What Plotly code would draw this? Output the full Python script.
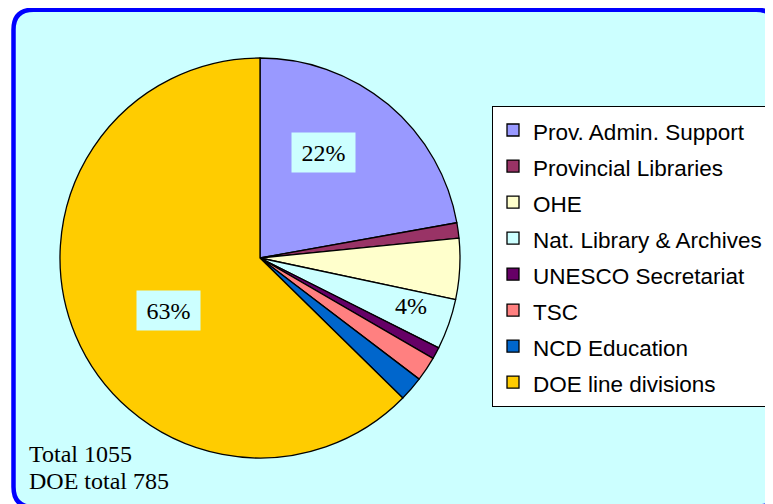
import plotly.graph_objects as go

W, H = 773, 504
OFF = 8  # the page body margin pushes the figure 8px right and down

# data
labels = ["Prov. Admin. Support", "Provincial Libraries", "OHE", "Nat. Library & Archives",
          "UNESCO Secretariat", "TSC", "NCD Education", "DOE line divisions"]
values = [234, 13, 52, 43, 10, 21, 21, 661]
colors = ["#9999FF", "#993366", "#FFFFCC", "#CCFFFF", "#660066", "#FF8080", "#0066CC", "#FFCC00"]
total_label = "Total 1055"
doe_label = "DOE total 785"

total = sum(values)

def px_x(x):
    return (x - OFF) / W

def px_y(y):
    return 1 - (y - OFF) / H

# legend text smaller than the legend font so the rows get the wider spacing
legend_labels = [f"<span style='font-size:22.5px'>{l}</span>" for l in labels]

fig = go.Figure(go.Pie(
    labels=legend_labels,
    values=values,
    marker=dict(colors=colors, line=dict(color="black", width=1.3)),
    sort=False,
    direction="clockwise",
    rotation=0,
    textinfo="none",
    hoverinfo="label+value+percent",
    domain=dict(x=[px_x(60), px_x(460)], y=[px_y(458), px_y(58)]),
))

# rounded blue frame
def rounded_rect(x0, y0, x1, y1, r):
    p = [
        f"M {px_x(x0 + r)},{px_y(y0)}",
        f"L {px_x(x1 - r)},{px_y(y0)}",
        f"Q {px_x(x1)},{px_y(y0)} {px_x(x1)},{px_y(y0 + r)}",
        f"L {px_x(x1)},{px_y(y1 - r)}",
        f"Q {px_x(x1)},{px_y(y1)} {px_x(x1 - r)},{px_y(y1)}",
        f"L {px_x(x0 + r)},{px_y(y1)}",
        f"Q {px_x(x0)},{px_y(y1)} {px_x(x0)},{px_y(y1 - r)}",
        f"L {px_x(x0)},{px_y(y0 + r)}",
        f"Q {px_x(x0)},{px_y(y0)} {px_x(x0 + r)},{px_y(y0)}",
        "Z",
    ]
    return " ".join(p)

fig.add_shape(type="path", xref="paper", yref="paper",
              path=rounded_rect(13.5, 9.7, 776, 507, 20),
              fillcolor="#CCFFFF", line=dict(color="#0000FF", width=4.5), layer="below")

serif = dict(family="Liberation Serif, Times New Roman, serif", size=24, color="black")

def pct(i):
    return f"{values[i] / total:.0%}"

# percentage labels
fig.add_annotation(x=px_x(323), y=px_y(152), xref="paper", yref="paper", text=pct(0),
                   showarrow=False, font=serif, bgcolor="#CCFFFF", width=61, height=37,
                   xanchor="center", yanchor="middle")
fig.add_annotation(x=px_x(411), y=px_y(306), xref="paper", yref="paper", text=pct(3),
                   showarrow=False, font=serif, xanchor="center", yanchor="middle")
fig.add_annotation(x=px_x(168), y=px_y(310), xref="paper", yref="paper", text=pct(7),
                   showarrow=False, font=serif, bgcolor="#CCFFFF", width=61, height=37,
                   xanchor="center", yanchor="middle")

# totals in the corner
fig.add_annotation(x=px_x(27), y=px_y(454), xref="paper", yref="paper", text=total_label,
                   showarrow=False, font=serif, xanchor="left", yanchor="middle")
fig.add_annotation(x=px_x(27), y=px_y(481), xref="paper", yref="paper", text=doe_label,
                   showarrow=False, font=serif, xanchor="left", yanchor="middle")

fig.update_layout(
    width=W, height=H,
    margin=dict(l=0, r=0, t=0, b=0),
    paper_bgcolor="white",
    showlegend=True,
    legend=dict(
        x=px_x(492), y=px_y(106), xanchor="left", yanchor="top",
        bgcolor="white", bordercolor="black", borderwidth=1,
        font=dict(family="Liberation Sans, Arial, sans-serif", size=25.4, color="black"),
        traceorder="normal",
    ),
)

fig.write_html("out.html")
